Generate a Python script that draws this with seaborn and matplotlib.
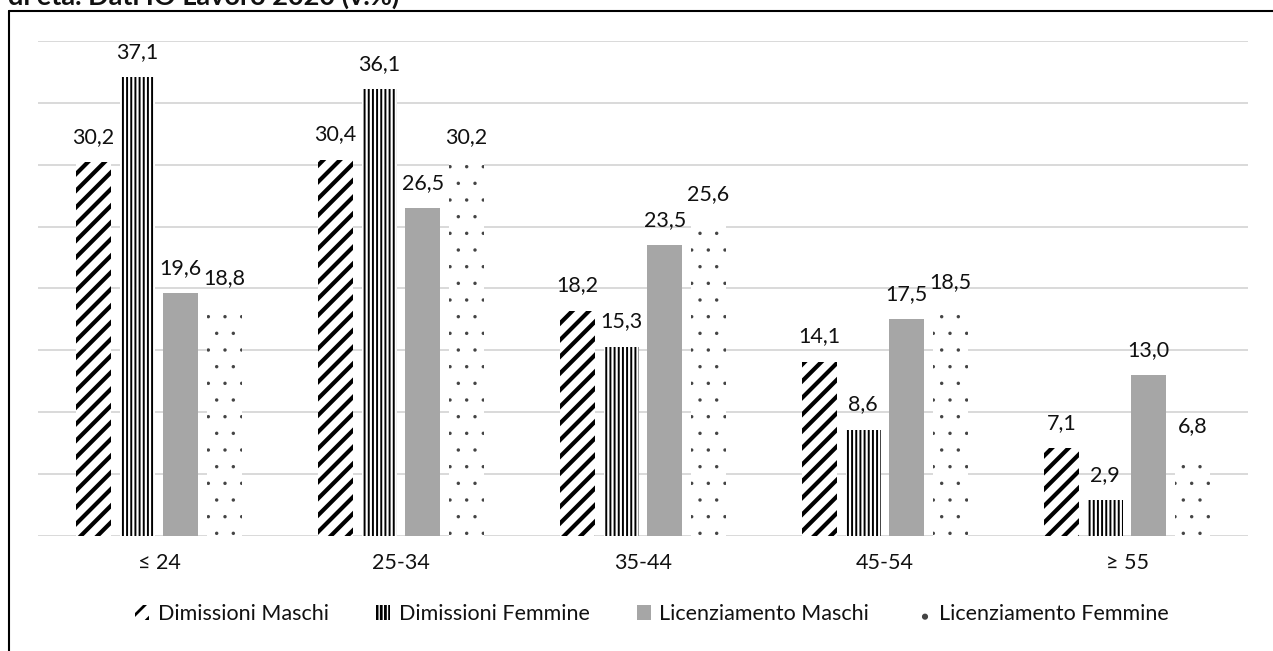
import matplotlib
matplotlib.use("Agg")
import matplotlib.pyplot as plt
from matplotlib.lines import Line2D
import seaborn as sns
import pandas as pd

# dati (v.%)
ETA = ["≤ 24", "25-34", "35-44", "45-54", "≥ 55"]
SERIE = ["Dimissioni Maschi", "Dimissioni Femmine", "Licenziamento Maschi", "Licenziamento Femmine"]
dimissioni_maschi = [30.2, 30.4, 18.2, 14.1, 7.1]
dimissioni_femmine = [37.1, 36.1, 15.3, 8.6, 2.9]
licenziamento_maschi = [19.6, 26.5, 23.5, 17.5, 13.0]
licenziamento_femmine = [18.8, 30.2, 25.6, 18.5, 6.8]

TITOLO = "di età. Dati IO Lavoro 2020 (v.%)"

FACE = ["white", "white", "#A6A6A6", "white"]
HATCH = ["//", "||||", "", "."]
HATCH_COL = ["black", "black", "black", "#444444"]
HATCH_LW = [3.0, 1.4, 0.0, 0.05]

rows = []
for serie, vals in zip(SERIE, [dimissioni_maschi, dimissioni_femmine,
                               licenziamento_maschi, licenziamento_femmine]):
    for eta, v in zip(ETA, vals):
        rows.append({"eta": eta, "serie": serie, "valore": v})
df = pd.DataFrame(rows)

sns.set_theme(style="white")
plt.rcParams["font.family"] = ["Lato", "DejaVu Sans"]
plt.rcParams["hatch.linewidth"] = 2.0

fig = plt.figure(figsize=(12.73, 6.51), dpi=100)
ax = fig.add_axes([38 / 1273, 1 - 536 / 651, 1210 / 1273, 495 / 651])

sns.barplot(data=df, x="eta", y="valore", hue="serie", order=ETA, hue_order=SERIE,
            palette=FACE, width=0.72, gap=0.2, linewidth=0, saturation=1,
            legend=False, ax=ax)

FS = 15.5
for cont, hatch, hcol, hlw in zip(ax.containers, HATCH, HATCH_COL, HATCH_LW):
    for p in cont.patches:
        p.set_hatch(hatch)
        p.set_edgecolor(hcol)
        p.set_linewidth(0)
        if hasattr(p, "set_hatch_linewidth") and hlw > 0:
            p.set_hatch_linewidth(hlw)
    ax.bar_label(cont, labels=[f"{v:.1f}".replace(".", ",") for v in cont.datavalues],
                 padding=11, fontsize=FS, color="#111111")

ax.set_ylim(0, 40)
ax.set_xlim(-0.5, 4.5)
ax.set_yticks(range(0, 41, 5))
ax.set_yticklabels([])
ax.yaxis.grid(True, color="#D9D9D9", linewidth=1.4)
ax.set_axisbelow(True)
ax.tick_params(axis="both", length=0)
ax.tick_params(axis="x", labelsize=FS, pad=12, colors="#111111")
ax.set_xlabel("")
ax.set_ylabel("")
for s in ax.spines.values():
    s.set_visible(False)

handles = [cont.patches[0] for cont in ax.containers]
leg = ax.legend(handles, SERIE, loc="center", bbox_to_anchor=(652 / 1273, 1 - 614 / 651),
                bbox_transform=fig.transFigure, ncol=4, frameon=False, fontsize=FS,
                handlelength=0.65, handleheight=0.65, handletextpad=0.4, columnspacing=2.2)
for t in leg.get_texts():
    t.set_color("#111111")

# cornice del grafico (tagliata a destra e in basso)
fig.add_artist(Line2D([9 / 1273, 9 / 1273], [0, 1 - 11 / 651], transform=fig.transFigure,
                      color="black", linewidth=1.5))
fig.add_artist(Line2D([9 / 1273, 1], [1 - 11 / 651, 1 - 11 / 651], transform=fig.transFigure,
                      color="black", linewidth=1.5))

fig.text(8 / 1273, 1 - 5 / 651, TITOLO, fontsize=19.5, fontweight="bold", va="baseline",
         ha="left", color="#111111")

fig.savefig("out.png", dpi=100, facecolor="white")
